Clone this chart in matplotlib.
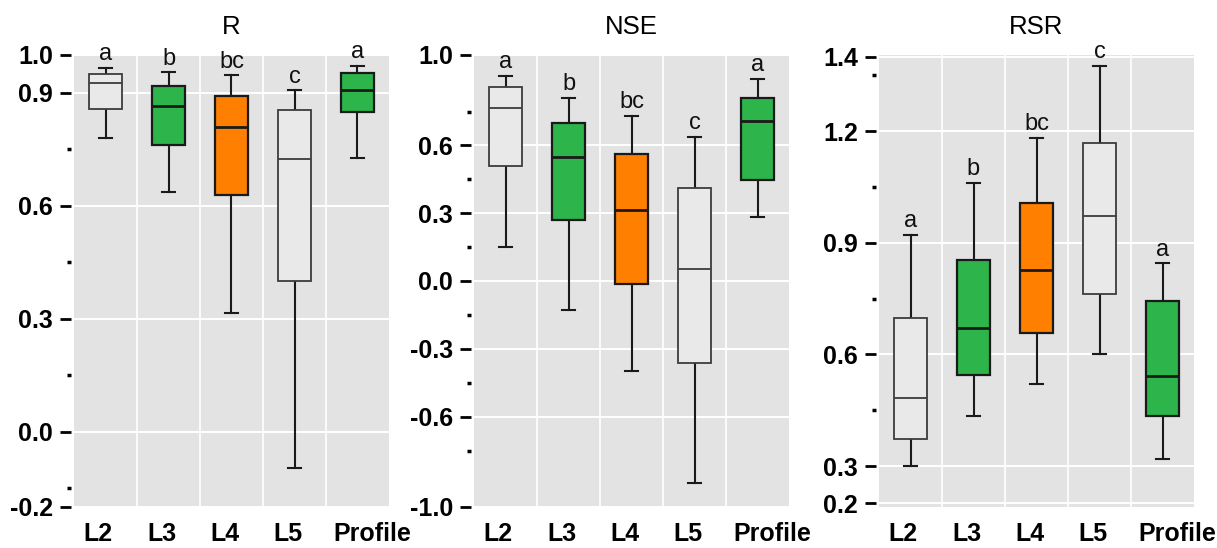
import matplotlib
matplotlib.use("Agg")
import matplotlib.pyplot as plt
from matplotlib.ticker import FixedLocator, FixedFormatter
from matplotlib.transforms import ScaledTranslation

plt.rcParams['font.family'] = ['Liberation Sans', 'DejaVu Sans']
# tick labels are bold; titles and letters switch back to normal below
plt.rcParams['font.weight'] = 'bold'

# layers compared in every panel
groups = ['L2', 'L3', 'L4', 'L5', 'Profile']
letters = {
    'R':   ['a', 'b', 'bc', 'c', 'a'],
    'NSE': ['a', 'b', 'bc', 'c', 'a'],
    'RSR': ['a', 'b', 'bc', 'c', 'a'],
}

# box statistics per metric: lower whisker, Q1, median, Q3, upper whisker
r_low = [0.780, 0.637, 0.316, -0.096, 0.726]
r_q1 = [0.856, 0.760, 0.627, 0.399, 0.849]
r_med = [0.925, 0.865, 0.808, 0.724, 0.908]
r_q3 = [0.949, 0.919, 0.890, 0.853, 0.953]
r_high = [0.966, 0.954, 0.946, 0.906, 0.971]

nse_low = [0.150, -0.128, -0.400, -0.894, 0.283]
nse_q1 = [0.510, 0.271, -0.012, -0.365, 0.447]
nse_med = [0.764, 0.550, 0.315, 0.053, 0.708]
nse_q3 = [0.857, 0.699, 0.563, 0.413, 0.809]
nse_high = [0.908, 0.809, 0.731, 0.636, 0.895]

rsr_low = [0.300, 0.435, 0.520, 0.600, 0.319]
rsr_q1 = [0.374, 0.546, 0.659, 0.763, 0.435]
rsr_med = [0.483, 0.671, 0.828, 0.971, 0.542]
rsr_q3 = [0.698, 0.855, 1.008, 1.168, 0.743]
rsr_high = [0.921, 1.062, 1.182, 1.375, 0.845]

# axis setup per metric
r_ticks = [1.0, 0.9, 0.6, 0.3, 0.0, -0.2]
r_minor = [0.75, 0.45, 0.15, -0.15]
nse_ticks = [1.0, 0.6, 0.3, 0.0, -0.3, -0.6, -1.0]
nse_minor = [0.75, 0.45, 0.15, -0.15, -0.45, -0.75]
rsr_ticks = [1.4, 1.2, 0.9, 0.6, 0.3, 0.2]
rsr_minor = [1.35, 1.05, 0.75, 0.45]

GRAY = '#e9e9e9'
GREEN = '#2db54b'
ORANGE = '#ff7f00'
box_colors = [GRAY, GREEN, ORANGE, GRAY, GREEN]
BG = '#e3e3e3'

# horizontal nudge (pixels) of the group labels under each panel
label_shift = [-8, -7, -7, -7, 15]

panels = [
    ('R', (r_low, r_q1, r_med, r_q3, r_high), (-0.2, 1.0), r_ticks, r_minor),
    ('NSE', (nse_low, nse_q1, nse_med, nse_q3, nse_high), (-1.0, 1.0), nse_ticks, nse_minor),
    ('RSR', (rsr_low, rsr_q1, rsr_med, rsr_q3, rsr_high), (0.19, 1.405), rsr_ticks, rsr_minor),
]

fig = plt.figure(figsize=(12.17, 5.48), dpi=100)
lefts = [74, 474, 879]
W, H = 1217, 548

for (name, stats, ylim, ticks, minor), left in zip(panels, lefts):
    ax = fig.add_axes([left / W, 1 - 507 / H, 315 / W, 452 / H])
    ax.set_facecolor(BG)
    lo, q1, med, q3, hi = stats
    bxp_stats = [dict(whislo=a, q1=b, med=c, q3=d, whishi=e, fliers=[])
                 for a, b, c, d, e in zip(lo, q1, med, q3, hi)]
    pos = list(range(1, len(groups) + 1))
    res = ax.bxp(bxp_stats, positions=pos, widths=0.53, patch_artist=True,
                 showfliers=False, capwidths=0.21,
                 whiskerprops=dict(color='#1a1a1a', lw=1.5),
                 capprops=dict(color='#1a1a1a', lw=1.5))
    for i, (box, col) in enumerate(zip(res['boxes'], box_colors)):
        box.set_facecolor(col)
        if col == GRAY:
            box.set_edgecolor('#3c3c3c')
            box.set_linewidth(1.3)
            res['medians'][i].set_color('#3c3c3c')
            res['medians'][i].set_linewidth(1.3)
        else:
            box.set_edgecolor('#1a1a1a')
            box.set_linewidth(1.6)
            res['medians'][i].set_color('#1a1a1a')
            res['medians'][i].set_linewidth(2.0)
        box.set_zorder(3)
        res['medians'][i].set_zorder(4)

    # significance letters above the upper whiskers
    for x, top, lab in zip(pos, hi, letters[name]):
        ax.annotate(lab, (x, top), xytext=(0, 2), textcoords='offset points',
                    ha='center', va='bottom', fontsize=17, fontweight='normal',
                    color='#111111')

    ax.set_xlim(0.5, len(groups) + 0.5)
    ax.set_ylim(*ylim)
    ax.xaxis.set_major_locator(FixedLocator(pos))
    ax.xaxis.set_major_formatter(FixedFormatter(groups))
    ax.xaxis.set_minor_locator(FixedLocator([p + 0.5 for p in pos[:-1]]))
    ax.yaxis.set_major_locator(FixedLocator(ticks))
    ax.yaxis.set_major_formatter(FixedFormatter(['{:.1f}'.format(t) for t in ticks]))
    ax.yaxis.set_minor_locator(FixedLocator(minor))

    ax.tick_params(axis='x', which='both', length=0, pad=11, labelsize=18)
    ax.tick_params(axis='y', which='major', length=8, width=2, pad=5,
                   direction='out', labelsize=18)
    ax.tick_params(axis='y', which='minor', length=3, width=2.5, direction='out')
    for lab, dx in zip(ax.get_xticklabels(), label_shift):
        lab.set_transform(lab.get_transform() +
                          ScaledTranslation(dx / 100, 0, fig.dpi_scale_trans))

    # white grid: horizontal at major ticks, vertical between groups
    ax.grid(True, which='major', axis='y', color='white', lw=1.4)
    ax.grid(True, which='minor', axis='x', color='white', lw=1.2)
    ax.set_axisbelow(True)
    for side in ['top', 'right', 'bottom']:
        ax.spines[side].set_visible(False)
    ax.spines['left'].set_position(('outward', 2))
    ax.spines['left'].set_visible(False)

    ax.set_title(name, fontsize=18.5, fontweight='normal', pad=15)

plt.savefig('out.png', dpi=100)
